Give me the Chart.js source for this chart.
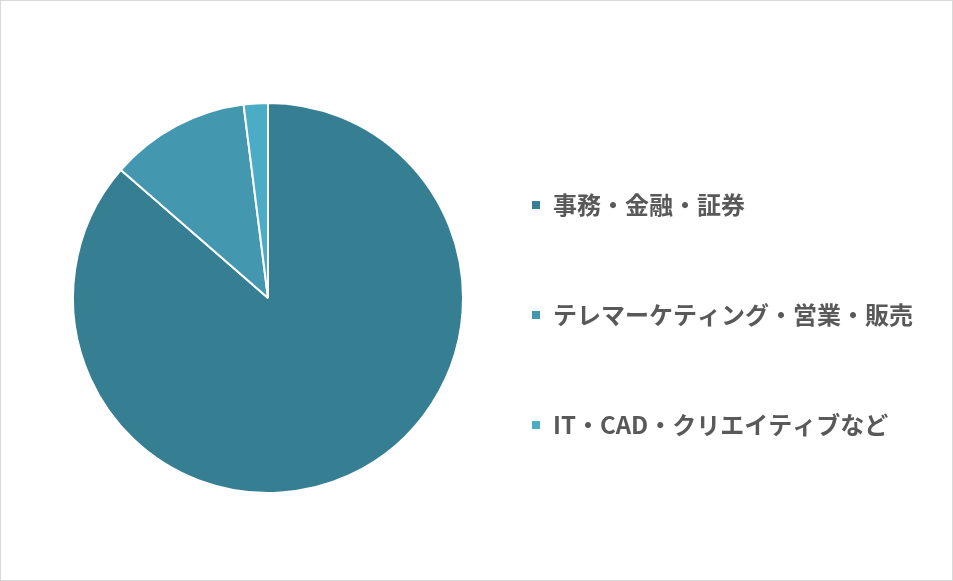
<!DOCTYPE html>
<html>
<head>
<meta charset="utf-8">
<script src="https://cdn.jsdelivr.net/npm/chart.js@4"></script>
<style>
  html, body { margin: 0; padding: 0; background: #fff; }
  #wrap { width: 953px; height: 581px; box-sizing: border-box; border: 1px solid #d9d9d9; }
</style>
</head>
<body>
<div id="wrap"><canvas id="jobChart" width="951" height="579"></canvas></div>
<script>
const categories = ['事務・金融・証券', 'テレマーケティング・営業・販売', 'IT・CAD・クリエイティブなど'];
const shares = [86.4, 11.6, 2.0];
const sliceColors = ['#367F93', '#4397AE', '#4BACC6'];

const ctx = document.getElementById('jobChart').getContext('2d');
new Chart(ctx, {
  type: 'pie',
  data: {
    labels: categories,
    datasets: [{
      data: shares,
      backgroundColor: sliceColors,
      borderColor: '#ffffff',
      borderWidth: 2,
      radius: 195
    }]
  },
  options: {
    responsive: false,
    animation: false,
    layout: { padding: { top: 72, bottom: 57, left: 90, right: 29 } },
    plugins: {
      tooltip: { enabled: false },
      legend: {
        position: 'right',
        align: 'end',
        maxWidth: 600,
        labels: {
          boxWidth: 10,
          boxHeight: 10,
          padding: 86,
          color: '#595959',
          font: { family: '"Noto Sans CJK JP", sans-serif', size: 24, weight: 'bold' }
        }
      }
    }
  }
});
</script>
</body>
</html>
